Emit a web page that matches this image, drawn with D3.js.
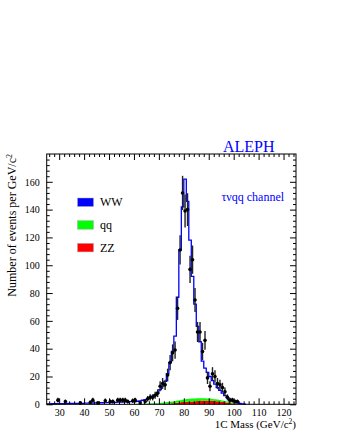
<!DOCTYPE html>
<html>
<head>
<meta charset="utf-8">
<script src="https://cdn.jsdelivr.net/npm/d3@7"></script>
<style>
    body { margin: 0; background: #fff; }
    svg { display: block; }
    text { font-family: "Liberation Serif", "DejaVu Serif", serif; }
</style>
</head>
<body>
<div id="chart"></div>
<script>
// 1C mass histogram, tau-nu-qq channel (1 GeV bins starting at 25 GeV)
const binStart = 25;

// ZZ background per bin, 25 .. 104 GeV
const zzValues = [
    0.05, 0.05, 0.05, 0.05, 0.05, 0.05, 0.05, 0.05, 0.05, 0.05,   // 25-34
    0.05, 0.05, 0.05, 0.05, 0.05, 0.05, 0.05, 0.05, 0.05, 0.05,   // 35-44
    0.05, 0.05, 0.05, 0.05, 0.05, 0.05, 0.05, 0.05, 0.05, 0.05,   // 45-54
    0.05, 0.05, 0.05, 0.05, 0.05, 0.05, 0.05, 0.05, 0.05, 0.05,   // 55-64
    0.1, 0.1, 0.1, 0.1, 0.1, 0.2, 0.3, 0.4, 0.5, 0.6,             // 65-74
    0.8, 1.0, 1.2, 1.4, 1.6, 1.8, 1.9, 2.0, 2.1, 2.2,             // 75-84
    2.3, 2.4, 2.5, 2.6, 2.6, 2.6, 2.5, 2.4, 2.2, 2.0,             // 85-94
    1.8, 1.5, 1.2, 0.9, 0.6, 0.4, 0.2, 0.1, 0, 0                  // 95-104
];

// qq background per bin
const qqValues = [
    0.1, 0.1, 0.1, 0.1, 0.1, 0.1, 0.1, 0.1, 0.1, 0.1,
    0.1, 0.1, 0.1, 0.1, 0.1, 0.1, 0.1, 0.1, 0.1, 0.1,
    0.1, 0.1, 0.1, 0.1, 0.1, 0.1, 0.1, 0.1, 0.1, 0.1,
    0.1, 0.1, 0.1, 0.1, 0.1, 0.2, 0.2, 0.2, 0.2, 0.2,
    0.3, 0.4, 0.5, 0.6, 0.7, 0.8, 0.9, 1.0, 1.1, 1.2,
    1.3, 1.4, 1.5, 1.6, 1.7, 1.8, 1.9, 2.0, 2.0, 2.0,
    2.0, 1.9, 1.8, 1.7, 1.6, 1.5, 1.4, 1.3, 1.2, 1.1,
    1.0, 0.9, 0.8, 0.7, 0.5, 0.4, 0.3, 0.2, 0.1, 0.05
];

// WW signal per bin
const wwValues = [
    0.15, 0.15, 0.25, 0.25, 0.35, 0.35, 0.35, 0.35, 0.45, 0.45,
    0.45, 0.45, 0.55, 0.55, 0.55, 0.65, 0.65, 0.75, 0.75, 0.85,
    0.85, 0.95, 0.95, 1.05, 1.05, 1.15, 1.15, 1.25, 1.35, 1.35,
    1.45, 1.55, 1.65, 1.75, 1.85, 1.75, 1.95, 2.25, 2.65, 3.15,
    3.6, 4.3, 5.2, 6.3, 7.7, 9.5, 11.8, 15.1, 20.4, 28.2,
    35.9, 46.6, 74.3, 108, 138.7, 158.4, 142.2, 114, 87.9, 67.8,
    51.7, 40.7, 26.7, 21.7, 18.8, 15.9, 13.1, 10.8, 8.6, 6.9,
    5.2, 3.9, 2.8, 1.9, 1.4, 0.9, 0.6, 0.3, 0.2, 0.05
];

// data points: bin centre, events per GeV, error
const dataMass = [29.5, 32.5, 38.5, 42.5, 43.5, 45.5, 48.5, 50.5, 51.5, 53.5,
    54.5, 55.5, 56.5, 57.5, 59.5, 60.5, 62.5, 64.5, 65.5, 66.5,
    67.5, 68.5, 69.5, 70.5, 71.5, 72.5, 73.5, 74.5, 75.5, 76.5,
    77.5, 78.5, 79.5, 80.5, 81.5, 82.5, 83.5, 84.5, 85.5, 86.5,
    87.5, 88.5, 89.5, 90.5, 91.5, 92.5, 93.5, 94.5, 95.5, 96.5,
    97.5, 98.5, 99.5, 100.5, 101.5];
const dataCount = [3, 2, 1, 1.5, 3, 1, 2.5, 2, 2, 3,
    3, 3, 3, 2, 2.5, 3, 1, 2, 4, 5,
    5, 6.5, 8, 13, 15, 14, 21, 30, 37, 39,
    69, 111, 152, 139, 140, 97, 104, 75, 52, 52,
    38, 46, 19, 13, 22, 20, 15, 14, 12, 9,
    5, 3, 3, 2, 2];
const dataErr = [1.7, 1.4, 1, 1.2, 1.7, 1, 1.6, 1.4, 1.4, 1.7,
    1.7, 1.7, 1.7, 1.4, 1.6, 1.7, 1, 1.4, 2, 2.2,
    2.2, 2.5, 2.8, 3.6, 3.9, 3.7, 4.6, 5.5, 6.1, 6.2,
    8.3, 10.5, 12.3, 11.8, 11.8, 9.8, 10.2, 8.7, 7.2, 7.2,
    6.2, 6.8, 4.4, 3.6, 4.7, 4.5, 3.9, 3.7, 3.5, 3,
    2.2, 1.7, 1.7, 1.4, 1.4];

const legendItems = ["WW", "qq", "ZZ"];
const legendColors = ["#0000ff", "#00ff00", "#ff0000"];

const xTicks = [30, 40, 50, 60, 70, 80, 90, 100, 110, 120];
const yTicks = [0, 20, 40, 60, 80, 100, 120, 140, 160];

const width = 337, height = 436;
const frame = { left: 46.7, right: 296, top: 154, bottom: 404.3 };

const svg = d3.select("#chart").append("svg")
    .attr("width", width)
    .attr("height", height);

const x = d3.scaleLinear().domain([25, 125]).range([frame.left, frame.right]);
const y = d3.scaleLinear().domain([0, 180]).range([frame.bottom, frame.top]);

// stacked histogram
const bins = zzValues.map((d, i) => ({
    lo: binStart + i,
    zz: d,
    qq: qqValues[i],
    ww: wwValues[i]
}));
const stack = d3.stack().keys(["zz", "qq", "ww"]);
const layers = stack(bins);

const stepArea = d3.area()
    .curve(d3.curveStepAfter)
    .x(d => x(d.lo))
    .y0(d => y(d.y0))
    .y1(d => y(d.y1));

// add a closing point so the last bin gets its width
function withEnd(layer) {
    const pts = layer.map(d => ({ lo: d.data.lo, y0: d[0], y1: d[1] }));
    const last = pts[pts.length - 1];
    pts.push({ lo: last.lo + 1, y0: last.y0, y1: last.y1 });
    return pts;
}

const hist = svg.append("g");

hist.append("path")
    .datum(withEnd(layers[0]))
    .attr("fill", "#ff0000")
    .attr("d", stepArea);

hist.append("path")
    .datum(withEnd(layers[1]))
    .attr("fill", "#00ff00")
    .attr("d", stepArea);

const stepLine = d3.line()
    .curve(d3.curveStepAfter)
    .x(d => x(d.lo))
    .y(d => y(d.y1));

hist.append("path")
    .datum(withEnd(layers[2]))
    .attr("fill", "none")
    .attr("stroke", "#0000ff")
    .attr("stroke-width", 1.3)
    .attr("d", stepLine);

// data points with error bars
const points = dataMass.map((m, i) => ({ m: m, n: dataCount[i], e: dataErr[i] }));

svg.append("g").selectAll(".err")
    .data(points)
    .join("line")
    .attr("class", "err")
    .attr("x1", d => x(d.m))
    .attr("x2", d => x(d.m))
    .attr("y1", d => y(Math.max(0, d.n - d.e)))
    .attr("y2", d => y(d.n + d.e))
    .attr("stroke", "#222")
    .attr("stroke-width", 1.4);

svg.append("g").selectAll(".pt")
    .data(points)
    .join("circle")
    .attr("class", "pt")
    .attr("cx", d => x(d.m))
    .attr("cy", d => y(d.n))
    .attr("r", 1.8)
    .attr("fill", "#000");

// frame and ticks on all four sides, pointing inward
const xMinor = d3.range(26, 125, 2).filter(v => v % 10 !== 0);
const yMinor = d3.range(4, 180, 4).filter(v => v % 20 !== 0);

function styleAxis(g) {
    g.select(".domain").remove();
    g.selectAll(".tick line").attr("stroke", "#000");
    g.selectAll(".tick text")
        .attr("fill", "#000")
        .style("font-family", "'Liberation Serif', serif")
        .style("font-size", "10px");
}

svg.append("g")
    .attr("transform", `translate(0,${frame.bottom})`)
    .call(d3.axisBottom(x).tickValues(xTicks).tickSize(-6).tickPadding(5))
    .call(styleAxis);
svg.append("g")
    .attr("transform", `translate(0,${frame.bottom})`)
    .call(d3.axisBottom(x).tickValues(xMinor).tickSize(-3).tickFormat(""))
    .call(styleAxis);
svg.append("g")
    .attr("transform", `translate(0,${frame.top})`)
    .call(d3.axisTop(x).tickValues(xTicks).tickSize(-6).tickFormat(""))
    .call(styleAxis);
svg.append("g")
    .attr("transform", `translate(0,${frame.top})`)
    .call(d3.axisTop(x).tickValues(xMinor).tickSize(-3).tickFormat(""))
    .call(styleAxis);

svg.append("g")
    .attr("transform", `translate(${frame.left},0)`)
    .call(d3.axisLeft(y).tickValues(yTicks).tickSize(-6).tickPadding(7))
    .call(styleAxis);
svg.append("g")
    .attr("transform", `translate(${frame.left},0)`)
    .call(d3.axisLeft(y).tickValues(yMinor).tickSize(-3).tickFormat(""))
    .call(styleAxis);
svg.append("g")
    .attr("transform", `translate(${frame.right},0)`)
    .call(d3.axisRight(y).tickValues(yTicks).tickSize(-6).tickFormat(""))
    .call(styleAxis);
svg.append("g")
    .attr("transform", `translate(${frame.right},0)`)
    .call(d3.axisRight(y).tickValues(yMinor).tickSize(-3).tickFormat(""))
    .call(styleAxis);

svg.append("rect")
    .attr("x", frame.left)
    .attr("y", frame.top)
    .attr("width", frame.right - frame.left)
    .attr("height", frame.bottom - frame.top)
    .attr("fill", "none")
    .attr("stroke", "#000")
    .attr("stroke-width", 1);

// axis titles
const xTitle = svg.append("text")
    .attr("x", frame.right)
    .attr("y", 428)
    .attr("text-anchor", "end")
    .style("font-size", "11px");
xTitle.append("tspan").text("1C Mass (GeV/c");
xTitle.append("tspan").attr("dy", -4).style("font-size", "7.5px").text("2");
xTitle.append("tspan").attr("dy", 4).text(")");

const yTitle = svg.append("text")
    .attr("transform", `translate(16,${frame.top}) rotate(-90)`)
    .attr("text-anchor", "end")
    .style("font-size", "12px");
yTitle.append("tspan").text("Number of events per GeV/c");
yTitle.append("tspan").attr("dy", -4.5).style("font-size", "8px").text("2");

// labels
svg.append("text")
    .attr("x", 223)
    .attr("y", 151.5)
    .attr("fill", "#0000ff")
    .style("font-size", "16px")
    .text("ALEPH");

svg.append("text")
    .attr("x", 221.5)
    .attr("y", 200.5)
    .attr("fill", "#0000ff")
    .style("font-size", "12px")
    .text("τνqq channel");

// legend
const legend = svg.append("g")
    .selectAll(".legend-item")
    .data(legendItems)
    .join("g")
    .attr("class", "legend-item")
    .attr("transform", (d, i) => `translate(77.5,${198 + i * 22.7})`);

legend.append("rect")
    .attr("width", 16)
    .attr("height", 8.5)
    .attr("fill", (d, i) => legendColors[i])
    .attr("stroke", "#aaa")
    .attr("stroke-width", 0.5);

legend.append("text")
    .attr("x", 22.5)
    .attr("y", 8.3)
    .style("font-size", "12px")
    .text(d => d);
</script>
</body>
</html>
